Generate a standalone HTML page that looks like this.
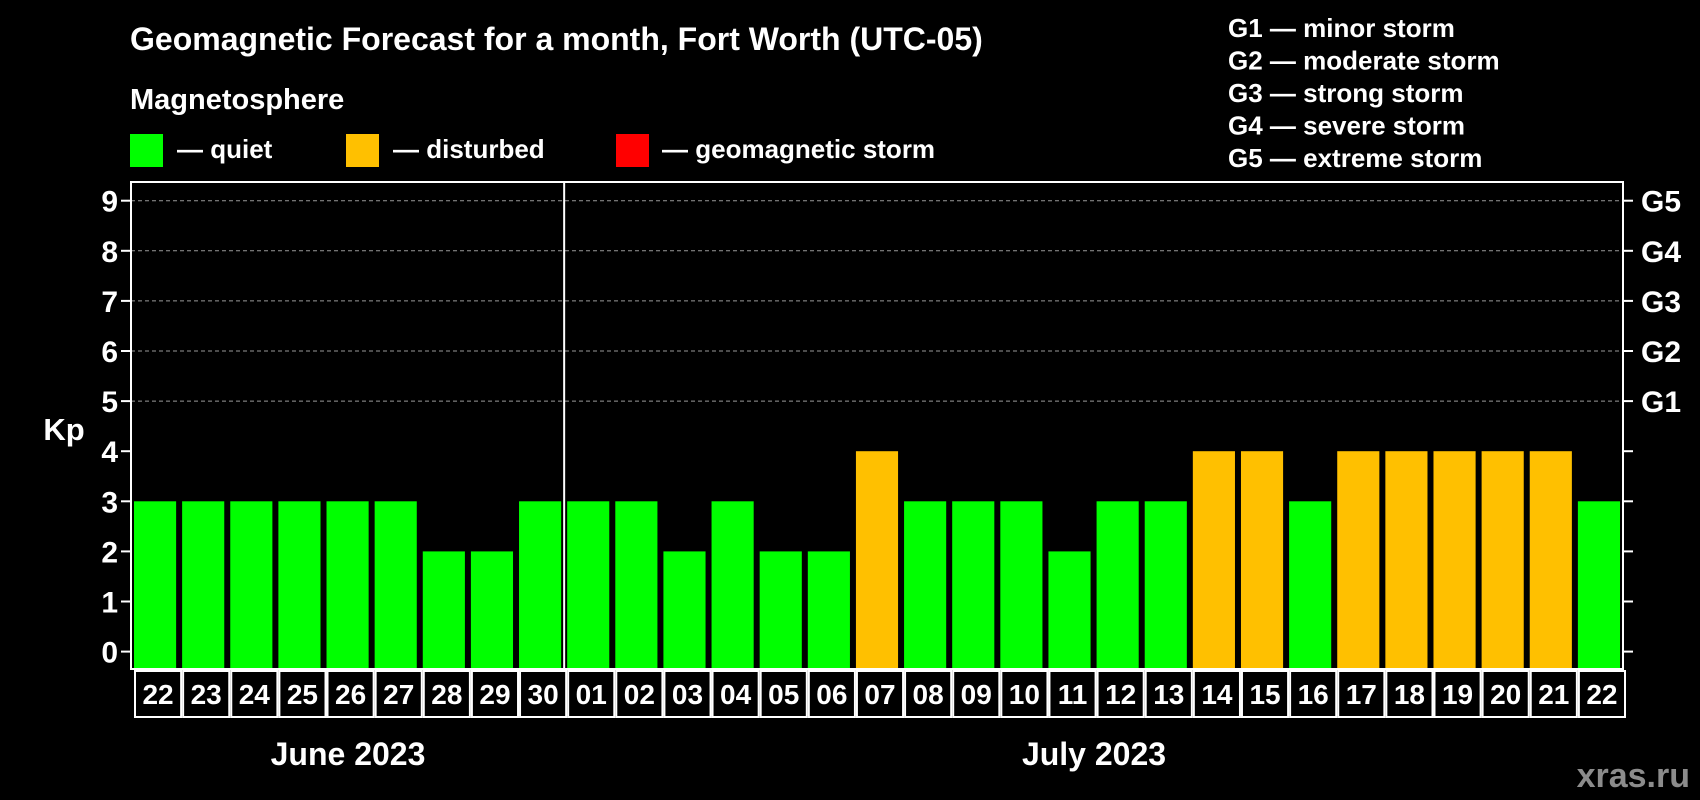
<!DOCTYPE html>
<html><head><meta charset="utf-8"><style>
html,body{margin:0;padding:0;background:#000;}
svg{display:block;font-family:"Liberation Sans",sans-serif;font-weight:bold;}
</style></head><body>
<svg id="chart" width="1700" height="800" viewBox="0 0 1700 800">
<text x="130" y="50" fill="#fff" font-size="32">Geomagnetic Forecast for a month, Fort Worth (UTC-05)</text>
<text x="130" y="109" fill="#fff" font-size="29">Magnetosphere</text>
<g><rect x="130" y="134" width="33" height="33" fill="#00ff00"/><text x="177" y="158" fill="#fff" font-size="26">— quiet</text></g>
<g><rect x="346" y="134" width="33" height="33" fill="#ffc000"/><text x="393" y="158" fill="#fff" font-size="26">— disturbed</text></g>
<g><rect x="616" y="134" width="33" height="33" fill="#ff0000"/><text x="662" y="158" fill="#fff" font-size="26">— geomagnetic storm</text></g>
<g fill="#fff" font-size="26">
<text x="1228" y="37">G1 — minor storm</text>
<text x="1228" y="69.5">G2 — moderate storm</text>
<text x="1228" y="102">G3 — strong storm</text>
<text x="1228" y="134.5">G4 — severe storm</text>
<text x="1228" y="167">G5 — extreme storm</text>
</g>
<text x="64" y="440" fill="#fff" font-size="31" text-anchor="middle">Kp</text>
<g id="grid"></g><g id="bars"></g><g id="axes"></g>
<text x="348" y="765" fill="#fff" font-size="32" text-anchor="middle">June 2023</text>
<text x="1094" y="765" fill="#fff" font-size="32" text-anchor="middle">July 2023</text>
<text x="1690" y="787" fill="#8c8c8c" font-size="34" text-anchor="end">xras.ru</text>
</svg>
<script>
const days = ["22","23","24","25","26","27","28","29","30","01","02","03","04","05","06","07","08","09","10","11","12","13","14","15","16","17","18","19","20","21","22"];
const kpValues = [3,3,3,3,3,3,2,2,3,3,3,2,3,2,2,4,3,3,3,2,3,3,4,4,3,4,4,4,4,4,3];
const yTicks = [0,1,2,3,4,5,6,7,8,9];
const gLabels = ["G1","G2","G3","G4","G5"];
const monthBreakIndex = 9;

const NS="http://www.w3.org/2000/svg";
const L=131,R=1623,T=182,B=669,Y0=651.6,UNIT=50.1;
const pitch=(R-L)/days.length;
const xs=i=>L+i*pitch;
const ys=v=>Y0-v*UNIT;
function mk(tag,attrs,parent){const e=document.createElementNS(NS,tag);for(const k in attrs)e.setAttribute(k,attrs[k]);parent.appendChild(e);return e;}
const grid=document.getElementById('grid'),bars=document.getElementById('bars'),axes=document.getElementById('axes');
yTicks.forEach(v=>{
  const y=ys(v);
  if(v>=5){const g=mk('line',{x1:L,x2:R,y1:y,y2:y,stroke:'#999','stroke-dasharray':'4,3','stroke-width':1},grid);
    
    }
  mk('line',{x1:L-10,x2:L,y1:y,y2:y,stroke:'#fff','stroke-width':2},axes);
  mk('line',{x1:R,x2:R+10,y1:y,y2:y,stroke:'#fff','stroke-width':2},axes);
  const t=mk('text',{x:L-13,y:y+11,fill:'#fff','font-size':30,'text-anchor':'end'},axes);
  t.textContent=v;
  
  
});
gLabels.forEach((g,i)=>{
  const t=mk('text',{x:R+18,y:ys(5+i)+11,fill:'#fff','font-size':30},axes);
  t.textContent=g;
  
  
});
kpValues.forEach((v,i)=>{
  const col=v>=5?'#ff0000':(v>=4?'#ffc000':'#00ff00');
  const r=mk('rect',{x:xs(i)+3,y:ys(v),width:pitch-6,height:B-1-ys(v),fill:col},bars);
  
  
  const c=mk('rect',{x:xs(i)+4,y:B+2,width:pitch-2,height:46,fill:'none',stroke:'#fff','stroke-width':2},axes);
  
  
  const t=mk('text',{x:xs(i)+3+pitch/2,y:B+35,fill:'#fff','font-size':28,'text-anchor':'middle'},axes);
  t.textContent=days[i];
  
  
});
const f=mk('rect',{x:L,y:T,width:R-L,height:B-T,fill:'none',stroke:'#fff','stroke-width':2},axes);


const d=mk('line',{x1:xs(monthBreakIndex),x2:xs(monthBreakIndex),y1:T,y2:B,stroke:'#fff','stroke-width':2},axes);


</script>
</body></html>
